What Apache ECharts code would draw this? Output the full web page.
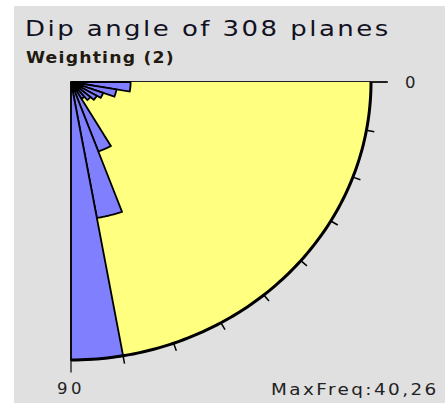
<!DOCTYPE html>
<html>
<head>
<meta charset="utf-8">
<title>Dip angle rose</title>
<script src="https://cdn.jsdelivr.net/npm/echarts@6/dist/echarts.min.js"></script>
<style>
  body { margin: 0; background: #fff; }
  #main { position: absolute; left: 14px; top: 6px; width: 431px; height: 397px; }
  /* the old windows text is spaced wide, svg text takes css letter-spacing */
  #main text { letter-spacing: 3.5px; }
  #main text[style*="22px"] { letter-spacing: 2.1px; }
  #main text[style*="16px"] { letter-spacing: 2.1px; }
  #main text[style*="bold"] { letter-spacing: 1.1px; }
</style>
</head>
<body>
<div id="main"></div>
<script type="text/javascript">

// dip bins (degrees) and weighted frequency of each bin
var binStart = [0, 10, 20, 30, 40, 50, 60, 70, 80];
var binEnd   = [10, 20, 30, 40, 50, 60, 70, 80, 90];
var freq     = [8.0, 6.2, 4.6, 4.0, 3.4, 2.8, 10.7, 20.0, 40.26];
var maxFreq  = 40.26;
var tickAngles = [10, 20, 30, 40, 50, 60, 70, 80];
var titleText = 'Dip angle of 308 planes';
var subText = 'Weighting (2)';

var FONT = 'DejaVu Sans';
var rad = Math.PI / 180;

// axes run a bit past the outer arc
var xMax = maxFreq * 316 / 300;
var yMax = maxFreq * 290 / 278;

var barData = binStart.map(function (s, i) { return [s, binEnd[i], freq[i]]; });

function sector(params, api) {
    var a0 = api.value(0), a1 = api.value(1), r = api.value(2);
    var pts = [api.coord([0, 0])];
    for (var k = 0; k <= 30; k++) {
        var t = (a0 + (a1 - a0) * k / 30) * rad;
        pts.push(api.coord([r * Math.cos(t), r * Math.sin(t)]));
    }
    return {
        type: 'polygon',
        shape: { points: pts },
        style: {
            fill: api.visual('color'),
            stroke: params.seriesName === 'bg' ? null : '#000',
            lineWidth: 1.8
        }
    };
}

function outerArc(params, api) {
    var pts = [];
    for (var k = 0; k <= 90; k++) {
        var t = k * rad;
        pts.push(api.coord([maxFreq * Math.cos(t), maxFreq * Math.sin(t)]));
    }
    return {
        type: 'polyline',
        shape: { points: pts },
        style: { stroke: '#000', lineWidth: 3, fill: null }
    };
}

function arcTick(params, api) {
    var t = api.value(0) * rad;
    var p = api.coord([maxFreq * Math.cos(t), maxFreq * Math.sin(t)]);
    return {
        type: 'line',
        shape: { x1: p[0], y1: p[1], x2: p[0] + 8 * Math.cos(t), y2: p[1] + 8 * Math.sin(t) },
        style: { stroke: '#000', lineWidth: 1.5 }
    };
}

var myChart = echarts.init(document.getElementById('main'), null, { renderer: 'svg' });

var option = {
    backgroundColor: '#e0e0e0',
    animation: false,
    grid: { left: 57, top: 76, width: 316, height: 290 },
    xAxis: {
        type: 'value', min: 0, max: xMax, position: 'top',
        axisLine: { show: true, onZero: false, lineStyle: { color: '#222', width: 2 } },
        axisTick: { show: false }, axisLabel: { show: false }, splitLine: { show: false },
        name: '0', nameLocation: 'end', nameGap: 18,
        nameTextStyle: { fontFamily: FONT, fontSize: 16.5, color: '#222' }
    },
    yAxis: {
        type: 'value', min: 0, max: yMax, inverse: true,
        axisLine: { show: true, onZero: false, lineStyle: { color: '#333', width: 1.5 } },
        axisTick: { show: false }, axisLabel: { show: false }, splitLine: { show: false },
        name: '90', nameLocation: 'end', nameGap: 8,
        nameTextStyle: { fontFamily: FONT, fontSize: 16.5, color: '#222' }
    },
    graphic: [
        { type: 'text', x: 11, y: 23, scaleX: 1.18, style: { text: titleText, fontFamily: FONT, fontSize: 22, fill: '#111122', textVerticalAlign: 'middle' } },
        { type: 'text', x: 12, y: 51.5, scaleX: 1.08, style: { text: subText, fontFamily: FONT, fontSize: 16, fontWeight: 'bold', fill: '#221a10', textVerticalAlign: 'middle' } },
        { type: 'text', x: 257, y: 383, scaleX: 1.15, style: { text: 'MaxFreq:' + maxFreq.toFixed(2).replace('.', ','), fontFamily: FONT, fontSize: 16, fill: '#222', textVerticalAlign: 'middle' } }
    ],
    series: [
        { name: 'bg', type: 'custom', renderItem: sector, data: [[0, 90, maxFreq]], itemStyle: { color: '#ffff80' }, silent: true, z: 1 },
        { name: 'dip', type: 'custom', renderItem: sector, data: barData, itemStyle: { color: '#8080ff' }, z: 2 },
        { name: 'arc', type: 'custom', renderItem: outerArc, data: [[0]], silent: true, z: 3 },
        { name: 'ticks', type: 'custom', renderItem: arcTick, data: tickAngles.map(function (a) { return [a]; }), silent: true, z: 3 }
    ]
};

myChart.setOption(option);
</script>
</body>
</html>
